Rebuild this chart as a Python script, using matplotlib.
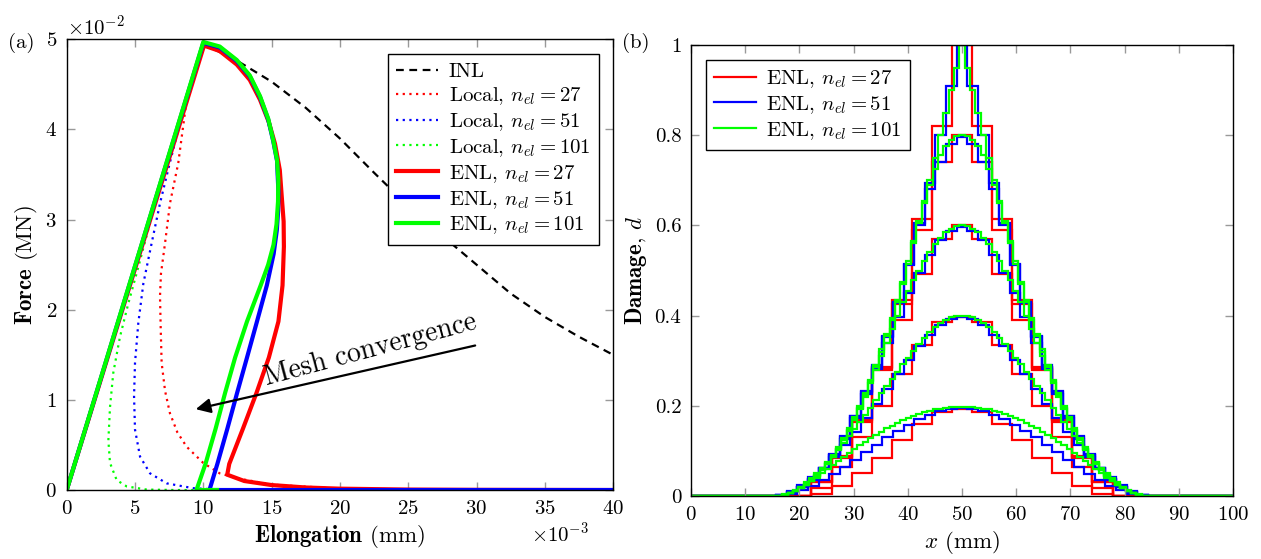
import numpy as np
import matplotlib
matplotlib.use("Agg")
import matplotlib.pyplot as plt
from matplotlib.ticker import FuncFormatter, MultipleLocator, ScalarFormatter

plt.rcParams['font.family'] = 'cmr10'
plt.rcParams['mathtext.fontset'] = 'cm'
plt.rcParams['axes.formatter.use_mathtext'] = True
plt.rcParams['font.size'] = 15

# ---- (a) force - elongation (elongation in 1e-3 mm, force in 1e-2 MN) ----
inl_e = [0, 10, 12.5, 15, 17.5, 20, 22.5, 25, 27.5, 30, 32.5, 35, 37.5, 40]
inl_f = [0, 4.95, 4.76, 4.53, 4.24, 3.90, 3.52, 3.15, 2.82, 2.50, 2.18, 1.92, 1.70, 1.50]

loc27_e = [10.0, 9.2, 8.78, 8.17, 7.56, 7.2, 6.9, 6.83, 6.88, 6.95, 7.2, 7.56, 8.1, 8.78, 10.0, 11.2, 12.5, 15, 20, 30, 40]
loc27_f = [4.95, 4.55, 4.33, 3.63, 3.18, 2.74, 2.4, 2.15, 1.8, 1.41, 1.1, 0.85, 0.64, 0.48, 0.30, 0.185, 0.13, 0.06, 0.015, 0.002, 0.0]

loc51_e = [10.0, 8.9, 8.17, 7.5, 6.83, 6.22, 5.61, 5.24, 5.0, 4.93, 5.0, 5.37, 6.1, 7.32, 9.27, 10.5, 40]
loc51_f = [4.95, 4.40, 4.0, 3.6, 3.18, 2.74, 2.29, 1.85, 1.41, 1.04, 0.67, 0.37, 0.185, 0.074, 0.02, 0.01, 0.0]

loc101_e = [10.0, 8.5, 7.8, 6.83, 5.9, 5.2, 4.51, 3.9, 3.41, 3.17, 3.05, 3.17, 3.66, 4.39, 5.86, 8.0, 40]
loc101_f = [4.95, 4.21, 3.86, 3.37, 2.85, 2.45, 2.07, 1.70, 1.30, 0.92, 0.55, 0.30, 0.11, 0.04, 0.005, 0.0, 0.0]

enl27_e = [0, 10.05, 11.2, 12.45, 13.4, 14.15, 14.8, 15.25, 15.6, 15.74, 15.88, 15.9, 15.8, 15.5,
           14.8, 13.9, 12.9, 11.9, 11.75, 13, 15, 17.5, 20, 25, 30, 40]
enl27_f = [0, 4.93, 4.87, 4.72, 4.55, 4.33, 4.08, 3.84, 3.55, 3.26, 2.98, 2.70, 2.27, 1.87,
           1.47, 1.08, 0.68, 0.29, 0.17, 0.10, 0.055, 0.028, 0.015, 0.005, 0.002, 0.0]

enl51_e = [0, 10.0, 11.2, 12.45, 13.4, 14.15, 14.75, 15.12, 15.4, 15.5, 15.48, 15.38, 15.15,
           14.65, 13.93, 13.2, 12.48, 11.76, 11.03, 10.45, 12, 20, 40]
enl51_f = [0, 4.96, 4.91, 4.76, 4.59, 4.36, 4.11, 3.87, 3.65, 3.3, 3.1, 2.88, 2.62,
           2.27, 1.87, 1.47, 1.08, 0.68, 0.29, 0.0, 0.0, 0.0, 0.0]

enl101_e = [0, 10.0, 11.2, 12.45, 13.4, 14.15, 14.75, 15.12, 15.4, 15.49, 15.47, 15.36, 15.14,
            14.75, 14.2, 13.2, 12.33, 11.6, 10.9, 10.16, 9.5, 11.0]
enl101_f = [0, 4.97, 4.92, 4.77, 4.6, 4.37, 4.12, 3.88, 3.66, 3.44, 3.2, 2.95, 2.72,
            2.5, 2.27, 1.87, 1.47, 1.08, 0.68, 0.29, 0.0, 0.0]

# ---- (b) damage per element, from the centre element outwards ----
d27 = {
    0.2: [0.193, 0.186, 0.16, 0.125, 0.085, 0.05, 0.022, 0.004],
    0.4: [0.398, 0.385, 0.335, 0.27, 0.2, 0.13, 0.065, 0.018],
    0.6: [0.60, 0.57, 0.493, 0.39, 0.28, 0.165, 0.085, 0.03],
    0.8: [0.80, 0.74, 0.59, 0.425, 0.283, 0.168, 0.087, 0.032],
    1.0: [1.0, 0.82, 0.615, 0.435, 0.285, 0.17, 0.089, 0.033],
}
d51 = {
    0.2: [0.196, 0.194, 0.188, 0.18, 0.17, 0.158, 0.145, 0.13, 0.114, 0.097, 0.08, 0.064, 0.049,
          0.035, 0.023, 0.013, 0.005, 0.001],
    0.4: [0.398, 0.393, 0.38, 0.358, 0.332, 0.302, 0.27, 0.238, 0.205, 0.173, 0.142, 0.113, 0.087,
          0.063, 0.042, 0.024, 0.01, 0.002],
    0.6: [0.597, 0.588, 0.568, 0.535, 0.494, 0.45, 0.397, 0.34, 0.282, 0.23, 0.178, 0.132, 0.094,
          0.063, 0.038, 0.021, 0.008, 0.002],
    0.8: [0.795, 0.78, 0.74, 0.68, 0.60, 0.512, 0.428, 0.352, 0.285, 0.227, 0.173, 0.127, 0.09,
          0.06, 0.036, 0.019, 0.007, 0.002],
    1.0: [1.0, 0.91, 0.80, 0.695, 0.605, 0.515, 0.43, 0.355, 0.29, 0.232, 0.178, 0.13, 0.092,
          0.061, 0.037, 0.02, 0.008, 0.002],
}
d101 = {
    0.2: [0.198, 0.198, 0.197, 0.196, 0.194, 0.192, 0.189, 0.186, 0.182, 0.178, 0.173, 0.168, 0.162,
          0.156, 0.15, 0.143, 0.136, 0.128, 0.12, 0.112, 0.104, 0.095, 0.086, 0.077, 0.068, 0.059,
          0.05, 0.041, 0.033, 0.025, 0.018, 0.012, 0.007, 0.003, 0.001, 0.0],
    0.4: [0.40, 0.399, 0.396, 0.39, 0.383, 0.374, 0.363, 0.35, 0.337, 0.322, 0.307, 0.292, 0.276,
          0.26, 0.244, 0.228, 0.212, 0.196, 0.18, 0.164, 0.148, 0.133, 0.118, 0.103, 0.089, 0.076,
          0.063, 0.051, 0.04, 0.03, 0.021, 0.013, 0.007, 0.003, 0.001, 0.0],
    0.6: [0.60, 0.598, 0.593, 0.585, 0.573, 0.558, 0.54, 0.52, 0.50, 0.478, 0.455, 0.43, 0.40,
          0.37, 0.34, 0.31, 0.28, 0.25, 0.22, 0.193, 0.168, 0.145, 0.124, 0.104, 0.087, 0.071,
          0.057, 0.045, 0.034, 0.025, 0.017, 0.011, 0.006, 0.003, 0.001, 0.0],
    0.8: [0.80, 0.798, 0.79, 0.775, 0.755, 0.725, 0.69, 0.65, 0.605, 0.56, 0.515, 0.47, 0.43,
          0.39, 0.355, 0.32, 0.286, 0.254, 0.224, 0.196, 0.171, 0.147, 0.125, 0.105, 0.087, 0.072,
          0.058, 0.045, 0.034, 0.025, 0.017, 0.011, 0.006, 0.003, 0.001, 0.0],
    1.0: [1.0, 0.95, 0.90, 0.85, 0.80, 0.75, 0.70, 0.655, 0.61, 0.565, 0.52, 0.475, 0.435,
          0.395, 0.36, 0.325, 0.29, 0.258, 0.228, 0.2, 0.175, 0.15, 0.128, 0.108, 0.09, 0.074,
          0.06, 0.047, 0.036, 0.027, 0.019, 0.012, 0.007, 0.004, 0.001, 0.0],
}
bar_length = 100.0


class FixedOrderFormatter(ScalarFormatter):
    # scalar formatter with a fixed power of ten in the offset text
    def __init__(self, order):
        self.fixed_order = order
        super().__init__(useMathText=True, useOffset=False)

    def _set_order_of_magnitude(self):
        self.orderOfMagnitude = self.fixed_order


def full_profile(half, n):
    # mirror the centre-outwards values over the whole bar
    m = n // 2
    h = np.zeros(m + 1)
    h[:len(half)] = half
    return np.concatenate([h[:0:-1], h])


def style_axes(ax):
    ax.tick_params(direction='in', top=True, right=True, length=6, width=1,
                   color='#999999', labelsize=15, pad=7)
    for s in ax.spines.values():
        s.set_linewidth(1.0)


fig = plt.figure(figsize=(12.61, 5.59), dpi=100)

# ---------------- panel (a) ----------------
ax1 = fig.add_axes([0.0529, 0.1234, 0.4333, 0.8063])
sx, sy = 1e-3, 1e-2
lw_thin, lw_thick = 1.6, 3.0
ax1.plot(np.array(inl_e) * sx, np.array(inl_f) * sy, color='black', ls=(0, (3.5, 2.5)), lw=1.6, label='INL')
ax1.plot(np.array(loc27_e) * sx, np.array(loc27_f) * sy, color='red', ls=(0, (1, 2)), lw=lw_thin,
         label=r'Local, $n_{el}=27$')
ax1.plot(np.array(loc51_e) * sx, np.array(loc51_f) * sy, color='blue', ls=(0, (1, 2)), lw=lw_thin,
         label=r'Local, $n_{el}=51$')
ax1.plot(np.array(loc101_e) * sx, np.array(loc101_f) * sy, color='#00ff00', ls=(0, (1, 2)), lw=lw_thin,
         label=r'Local, $n_{el}=101$')
ax1.plot(np.array(enl27_e) * sx, np.array(enl27_f) * sy, color='red', lw=lw_thick,
         label=r'ENL, $n_{el}=27$')
ax1.plot(np.array(enl51_e) * sx, np.array(enl51_f) * sy, color='blue', lw=lw_thick,
         label=r'ENL, $n_{el}=51$')
ax1.plot(np.array(enl101_e) * sx, np.array(enl101_f) * sy, color='#00ff00', lw=lw_thick,
         label=r'ENL, $n_{el}=101$')

ax1.set_xlim(0, 0.04)
ax1.set_ylim(0, 0.05)
ax1.xaxis.set_major_locator(MultipleLocator(0.005))
ax1.yaxis.set_major_locator(MultipleLocator(0.01))
ax1.xaxis.set_major_formatter(FixedOrderFormatter(-3))
ax1.yaxis.set_major_formatter(FixedOrderFormatter(-2))
ax1.xaxis.get_offset_text().set_fontsize(15)
ax1.xaxis.get_offset_text().set_x(0.955)
ax1.yaxis.get_offset_text().set_fontsize(15)
ax1.set_xlabel(r'$\mathbf{Elongation}$ (mm)', fontsize=16.5)
ax1.set_ylabel(r'$\mathbf{Force}$ (MN)', fontsize=16.5)
style_axes(ax1)

ax1.annotate('', xy=(9.25e-3, 0.89e-2), xytext=(30.1e-3, 1.61e-2),
             arrowprops=dict(arrowstyle='-|>', lw=1.6, color='black', mutation_scale=22))
ax1.text(22.2e-3, 1.55e-2, 'Mesh convergence', fontsize=20, rotation=15,
         ha='center', va='center', rotation_mode='anchor')

leg1 = ax1.legend(loc='upper right', fontsize=15, frameon=True, fancybox=False,
                  edgecolor='black', framealpha=1, borderaxespad=0.7, labelspacing=0.2,
                  handlelength=2.0, handletextpad=0.5, borderpad=0.4)
leg1.get_frame().set_linewidth(1.0)
fig.text(0.006, 0.915, '(a)', fontsize=15)

# ---------------- panel (b) ----------------
ax2 = fig.add_axes([0.548, 0.1127, 0.4298, 0.8068])
meshes = [(27, d27, 'red'), (51, d51, 'blue'), (101, d101, '#00ff00')]
for n, table, col in meshes:
    edges = np.linspace(0, bar_length, n + 1)
    for i, level in enumerate(sorted(table)):
        vals = full_profile(table[level], n)
        ax2.stairs(vals, edges, color=col, lw=1.6, baseline=None,
                   label=rf'ENL, $n_{{el}}={n}$' if i == 0 else None)

ax2.set_xlim(0, 100)
ax2.set_ylim(0, 1)
ax2.xaxis.set_major_locator(MultipleLocator(10))
ax2.yaxis.set_major_locator(MultipleLocator(0.2))
ax2.yaxis.set_major_formatter(FuncFormatter(lambda v, p: f'{v:g}'))
ax2.set_xlabel(r'$x$ (mm)', fontsize=16.5)
ax2.set_ylabel(r'$\mathbf{Damage}$, $d$', fontsize=16.5)
style_axes(ax2)
leg2 = ax2.legend(loc='upper left', fontsize=15, frameon=True, fancybox=False,
                  edgecolor='black', framealpha=1, borderaxespad=0.7, labelspacing=0.2,
                  handlelength=2.0, handletextpad=0.5, borderpad=0.4)
leg2.get_frame().set_linewidth(1.0)
fig.text(0.493, 0.915, '(b)', fontsize=15)

fig.savefig('out.png', dpi=100)
